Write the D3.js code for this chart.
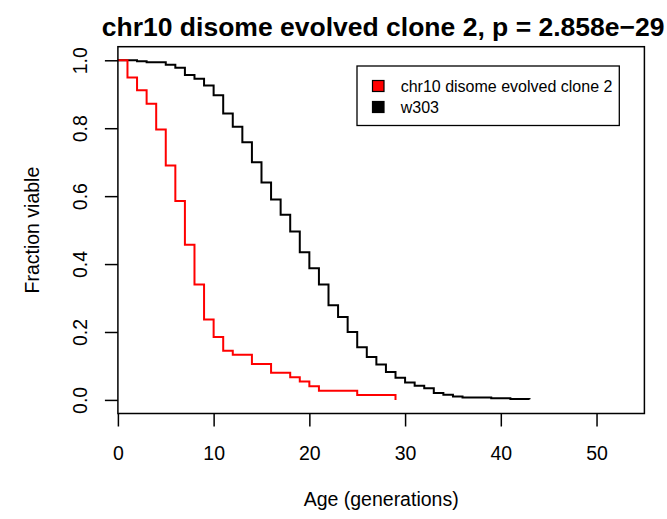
<!DOCTYPE html>
<html>
<head>
<meta charset="utf-8">
<script src="https://cdn.jsdelivr.net/npm/d3@7"></script>
<style>
  html, body { margin: 0; padding: 0; background: #fff; }
  svg { display: block; }
  text { font-family: "Liberation Sans", Arial, Helvetica, sans-serif; fill: #000; }
</style>
</head>
<body>
<svg id="chart" width="667" height="519"></svg>
<script>
const titleText = "chr10 disome evolved clone 2, p = 2.858e\u221229";
const xLabel = "Age (generations)";
const yLabel = "Fraction viable";
const seriesNames = ["chr10 disome evolved clone 2", "w303"];
const seriesColors = ["#FF0000", "#000000"];

const redTimes = [0, 1, 2, 3, 4, 5, 6, 7, 8, 9, 10, 11, 12, 14, 16, 18, 19, 20, 21, 25, 29];
const redSurv  = [1, 0.949, 0.912, 0.872, 0.796, 0.690, 0.586, 0.457, 0.340, 0.237, 0.185, 0.145, 0.133, 0.106, 0.080, 0.067, 0.054, 0.040, 0.027, 0.0147, 0];

const blackTimes = [0, 2, 3, 5, 6, 7, 8, 9, 10, 11, 12, 13, 14, 15, 16, 17, 18, 19, 20, 21, 22, 23, 24, 25, 26, 27, 28, 29, 30, 31, 32, 33, 34, 35, 36, 39, 41, 43];
const blackSurv  = [1, 0.997, 0.994, 0.987, 0.978, 0.957, 0.946, 0.926, 0.897, 0.843, 0.804, 0.759, 0.700, 0.640, 0.590, 0.545, 0.496, 0.435, 0.388, 0.340, 0.279, 0.244, 0.200, 0.155, 0.126, 0.104, 0.082, 0.065, 0.051, 0.042, 0.034, 0.020, 0.015, 0.010, 0.007, 0.005, 0.003, 0.002];

const xTicks = [0, 10, 20, 30, 40, 50];
const yTicks = [0, 0.2, 0.4, 0.6, 0.8, 1.0];

const svg = d3.select("#chart");
const L = 117.9, R = 644.4, T = 46.7, B = 413.5;

const x = d3.scaleLinear().domain([0, 55]).range([L, R]);
const y = d3.scaleLinear().domain([-0.04, 1.04]).range([B, T]);

// Title
svg.append("text")
  .attr("x", (L + R) / 2 + 2).attr("y", 36)
  .attr("text-anchor", "middle")
  .style("font-weight", "bold").style("font-size", "26.5px")
  .text(titleText);

// X axis
const xAxis = svg.append("g").attr("transform", `translate(0,${B})`)
  .call(d3.axisBottom(x).tickValues(xTicks).tickSize(13).tickSizeOuter(0).tickFormat(d3.format("d")));
xAxis.select(".domain").remove();
xAxis.selectAll("line").attr("stroke", "#000").attr("stroke-width", 1.5);
xAxis.selectAll("text").attr("y", 460 - B).attr("dy", null)
  .style("font-size", "19.5px").attr("fill", "#000");

// Y axis
const yAxis = svg.append("g").attr("transform", `translate(${L},0)`)
  .call(d3.axisLeft(y).tickValues(yTicks).tickSize(13).tickSizeOuter(0).tickFormat(d3.format(".1f")));
yAxis.select(".domain").remove();
yAxis.selectAll("line").attr("stroke", "#000").attr("stroke-width", 1.5);
yAxis.selectAll("text")
  .attr("x", null).attr("dy", null)
  .attr("text-anchor", "middle")
  .attr("transform", `translate(${86.7 - L},0) rotate(-90)`)
  .style("font-size", "19.5px").attr("fill", "#000");

// Axis titles
svg.append("text")
  .attr("x", (L + R) / 2).attr("y", 506)
  .attr("text-anchor", "middle").style("font-size", "19.5px")
  .text(xLabel);
svg.append("text")
  .attr("transform", `translate(39,${(T + B) / 2}) rotate(-90)`)
  .attr("text-anchor", "middle").style("font-size", "19.5px")
  .text(yLabel);

// Curves
const line = d3.line().curve(d3.curveStepAfter).x(d => x(d[0])).y(d => y(d[1]));
const blackData = blackTimes.map((t, i) => [t, blackSurv[i]]);
const redData = redTimes.map((t, i) => [t, redSurv[i]]);
svg.append("path").attr("d", line(blackData)).attr("fill", "none")
  .attr("stroke", seriesColors[1]).attr("stroke-width", 2);
svg.append("path").attr("d", line(redData)).attr("fill", "none")
  .attr("stroke", seriesColors[0]).attr("stroke-width", 2);

// Box
svg.append("rect").attr("x", L).attr("y", T).attr("width", R - L).attr("height", B - T)
  .attr("fill", "none").attr("stroke", "#000").attr("stroke-width", 1.5);

// Legend
const lg = svg.append("g");
lg.append("rect").attr("x", 357).attr("y", 66).attr("width", 619.3 - 357).attr("height", 125.5 - 66)
  .attr("fill", "#fff").attr("stroke", "#000").attr("stroke-width", 1.3);
seriesNames.forEach((name, i) => {
  const yy = 80.5 + i * 21;
  lg.append("rect").attr("x", 372.5).attr("y", yy).attr("width", 11.5).attr("height", 11)
    .attr("fill", seriesColors[i]).attr("stroke", "#000").attr("stroke-width", 1.2);
  lg.append("text").attr("x", 400.7).attr("y", yy + 11.5)
    .style("font-size", "16px").text(name);
});
</script>
</body>
</html>
